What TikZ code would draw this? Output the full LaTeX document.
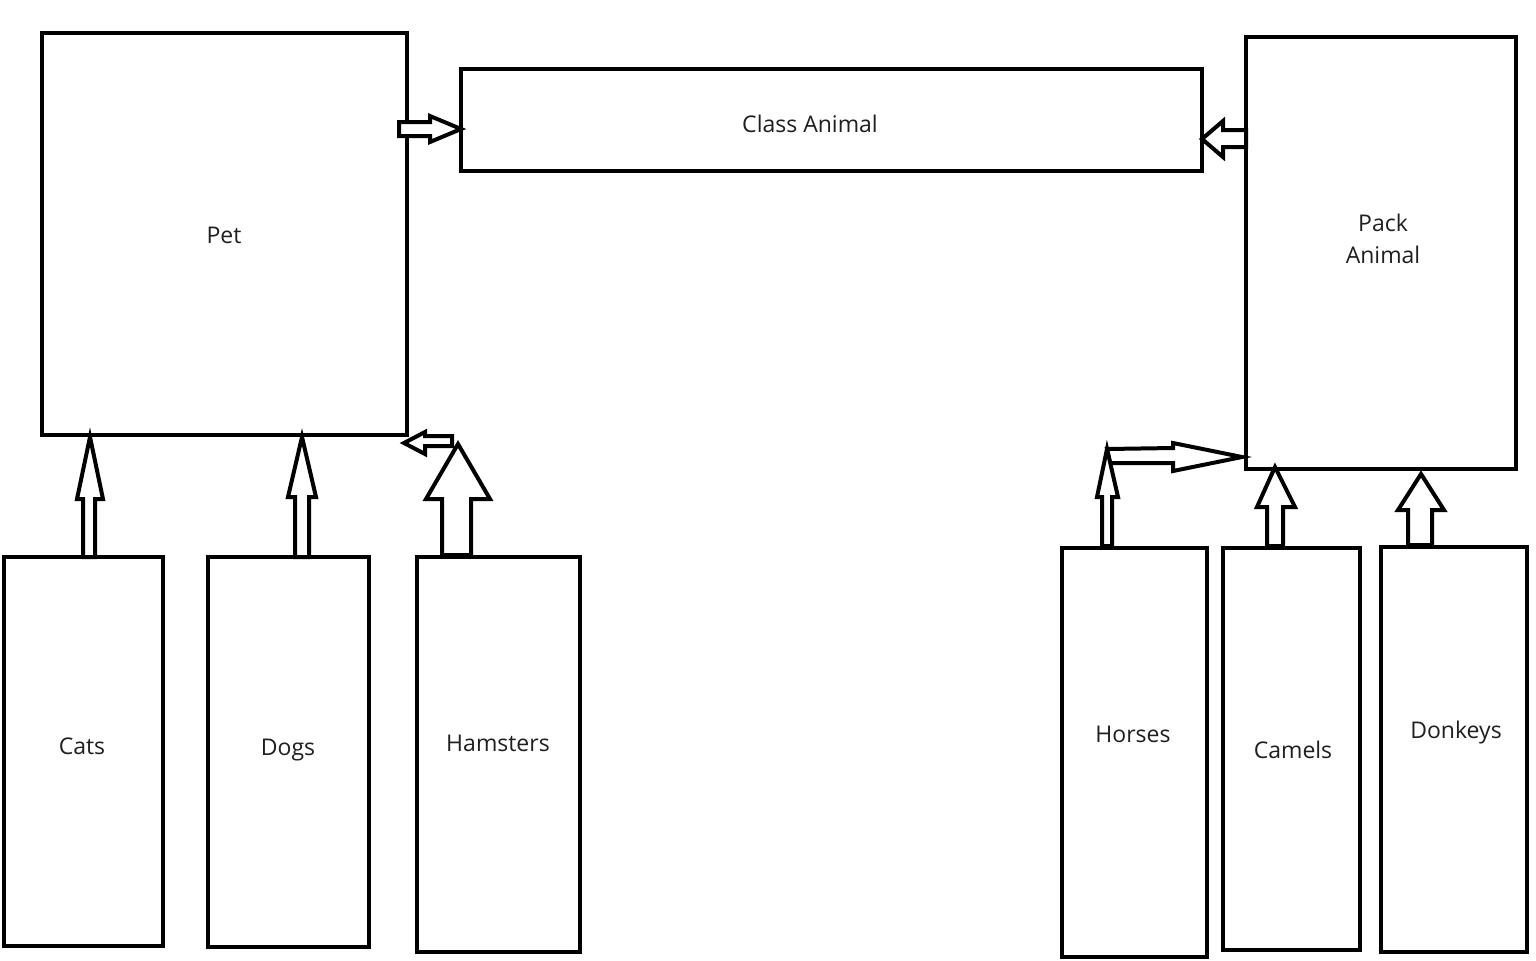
\documentclass[tikz,border=0pt]{standalone}
\usepackage{fontspec}
\setmainfont{Open Sans}
\usetikzlibrary{fit}
\begin{document}
\begin{tikzpicture}[x=0.5pt,y=-0.5pt,
  box/.style={draw=black,line width=2pt,inner sep=0pt},
  lbl/.style={text=black!88,font=\fontsize{11.5}{16}\selectfont,align=center},
  blockarrow/.style={draw=black,fill=white,line width=2pt,line join=miter}]
\useasboundingbox (0,0) rectangle (1536,960);
\fill[white] (0,0) rectangle (1536,960);
% boxes
\node[box,fit={(42,33)(407,435)}] (pet) {};
\node[box,fit={(461,69)(1202,171)}] (animal) {};
\node[box,fit={(1246,37)(1516,469)}] (pack) {};
\node[box,fit={(4,557)(163,946)}] (cats) {};
\node[box,fit={(208,557)(369,947)}] (dogs) {};
\node[box,fit={(417,557)(580,952)}] (hamsters) {};
\node[box,fit={(1062,548)(1207,957)}] (horses) {};
\node[box,fit={(1223,548)(1360,950)}] (camels) {};
\node[box,fit={(1381,547)(1527,952)}] (donkeys) {};
% labels
\node[lbl] (tpet) at (224,235) {Pet};
\node[lbl] (tanimal) at (810,124) {Class Animal};
\node[lbl] (tpack) at (1383,239) {Pack\\Animal};
\node[lbl] (tcats) at (82,746) {Cats};
\node[lbl] (tdogs) at (288,750) {Dogs};
\node[lbl] (tham) at (498,743) {Hamsters};
\node[lbl] (thor) at (1133,734) {Horses};
\node[lbl] (tcam) at (1293,750) {Camels};
\node[lbl] (tdon) at (1456,733) {Donkeys};
% block arrows
% Pet -> Class Animal
\draw[blockarrow] (399,122) -- (430,122) -- (430,116) -- (461,129) -- (430,142) -- (430,136) -- (399,136) -- cycle;
% Pack Animal -> Class Animal
\draw[blockarrow] (1246,130) -- (1223,130) -- (1223,121) -- (1202,139) -- (1223,157) -- (1223,147) -- (1246,147) -- cycle;
% Hamsters small left arrow
\draw[blockarrow] (452,436) -- (425,436) -- (425,432) -- (404,443) -- (425,454) -- (425,446) -- (452,446) -- cycle;
% Hamsters big up arrow
\draw[blockarrow] (442,555) -- (442,499) -- (426,499) -- (458,444) -- (490,499) -- (471,499) -- (471,555) -- cycle;
% Cats
\draw[blockarrow] (83,557) -- (83,499) -- (77,499) -- (90,437) -- (103,499) -- (95,499) -- (95,557) -- cycle;
% Dogs
\draw[blockarrow] (295,557) -- (295,497) -- (288,497) -- (302,437) -- (316,497) -- (309,497) -- (309,557) -- cycle;
% Horses right arrow
\draw[blockarrow] (1107,449) -- (1173,448) -- (1173,443) -- (1242,457) -- (1173,471) -- (1173,463) -- (1110,463) -- cycle;
% Horses up arrow
\draw[blockarrow] (1102,546) -- (1102,497) -- (1097,497) -- (1107,449) -- (1118,497) -- (1112,497) -- (1112,546) -- cycle;
% Camels
\draw[blockarrow] (1267,546) -- (1267,507) -- (1257,507) -- (1275,467) -- (1295,507) -- (1283,507) -- (1283,546) -- cycle;
% Donkeys
\draw[blockarrow] (1408,545) -- (1408,510) -- (1398,510) -- (1421,474) -- (1444,510) -- (1432,510) -- (1432,545) -- cycle;
\end{tikzpicture}
\end{document}
